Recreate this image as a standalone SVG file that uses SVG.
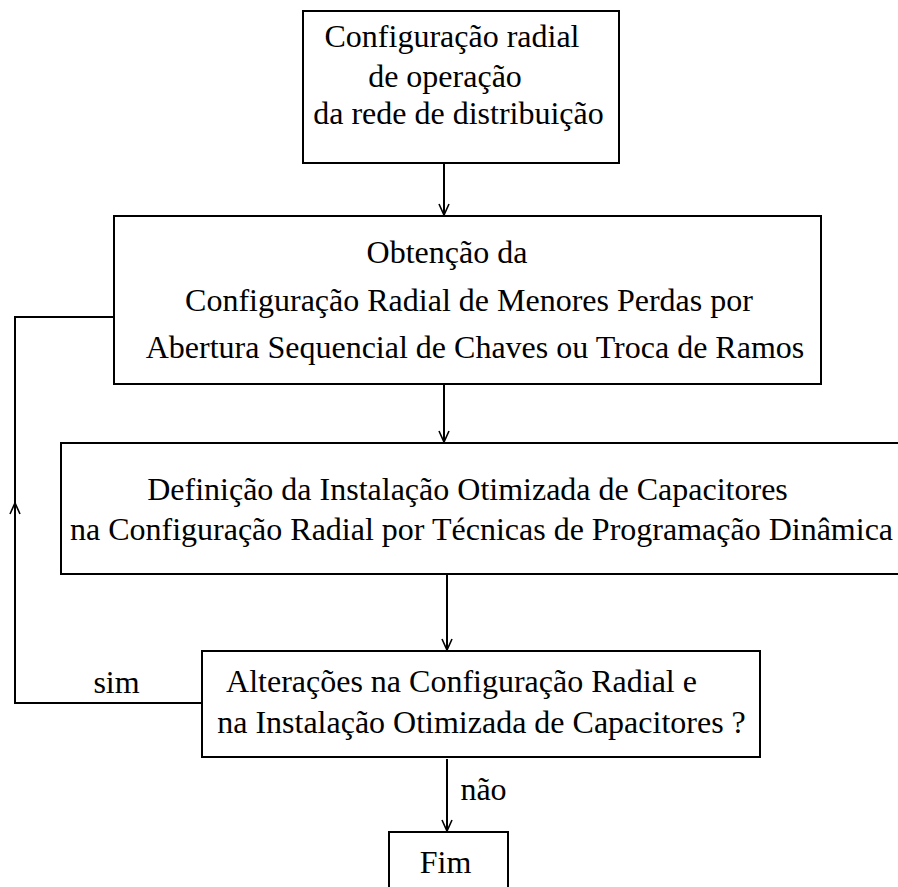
<svg xmlns="http://www.w3.org/2000/svg" width="898" height="887" viewBox="0 0 898 887">
<style>
  .box { fill: #ffffff; stroke: #000000; stroke-width: 2; }
  .conn { fill: none; stroke: #000000; stroke-width: 2; }
</style>
<defs>
  <marker id="arrow" viewBox="-14 -8 16 16" markerWidth="16" markerHeight="16" refX="0" refY="0" orient="auto" markerUnits="userSpaceOnUse" overflow="visible">
    <path d="M-11,-5 L0,0 L-11,5" fill="none" stroke="#000000" stroke-width="1.6"/>
  </marker>
</defs>
<rect x="0" y="0" width="898" height="887" fill="#ffffff"/>

<g id="connectors">
  <path class="conn" d="M444,163 V215" marker-end="url(#arrow)"/>
  <path class="conn" d="M444,384 V442" marker-end="url(#arrow)"/>
  <path class="conn" d="M447,574 V650" marker-end="url(#arrow)"/>
  <path class="conn" d="M447,759 V831" marker-end="url(#arrow)"/>
  <path class="conn" d="M202,703 H15 V503" marker-end="url(#arrow)"/>
  <path class="conn" d="M15,503 V317 H114"/>
  <text font-family="Liberation Serif" font-size="32" text-anchor="middle" x="116.5" y="693">sim</text>
  <text font-family="Liberation Serif" font-size="32" text-anchor="middle" x="483.5" y="800">não</text>
</g>

<g id="node1">
  <rect class="box" x="303" y="11" width="316" height="152"/>
  <text font-family="Liberation Serif" font-size="32" text-anchor="middle" x="452" y="47">Configuração radial</text>
  <text font-family="Liberation Serif" font-size="32" text-anchor="middle" x="445" y="87">de operação</text>
  <text font-family="Liberation Serif" font-size="32" text-anchor="middle" x="458.5" y="124">da rede de distribuição</text>
</g>

<g id="node2">
  <rect class="box" x="114" y="216" width="707" height="168"/>
  <text font-family="Liberation Serif" font-size="32" text-anchor="middle" x="447" y="263">Obtenção da</text>
  <text font-family="Liberation Serif" font-size="32" text-anchor="middle" x="469" y="311">Configuração Radial de Menores Perdas por</text>
  <text font-family="Liberation Serif" font-size="32" text-anchor="middle" x="475" y="358">Abertura Sequencial de Chaves ou Troca de Ramos</text>
</g>

<g id="node3">
  <rect class="box" x="61" y="443" width="845" height="131"/>
  <text font-family="Liberation Serif" font-size="32" text-anchor="middle" x="467.5" y="500">Definição da Instalação Otimizada de Capacitores</text>
  <text font-family="Liberation Serif" font-size="32" text-anchor="middle" x="481.5" y="540">na Configuração Radial por Técnicas de Programação Dinâmica</text>
</g>

<g id="node4">
  <rect class="box" x="202" y="651" width="558" height="106"/>
  <text font-family="Liberation Serif" font-size="32" text-anchor="middle" x="461.5" y="692">Alterações na Configuração Radial e</text>
  <text font-family="Liberation Serif" font-size="32" text-anchor="middle" x="481.5" y="733">na Instalação Otimizada de Capacitores ?</text>
</g>

<g id="node5">
  <rect class="box" x="389" y="832" width="119" height="70"/>
  <text font-family="Liberation Serif" font-size="32" text-anchor="middle" x="445.5" y="873">Fim</text>
</g>
</svg>
